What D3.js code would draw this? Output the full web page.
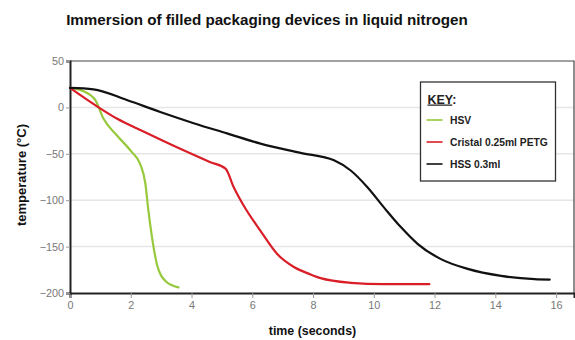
<!doctype html>
<html>
<head>
<meta charset="utf-8">
<title>Immersion of filled packaging devices in liquid nitrogen</title>
<script src="https://cdn.jsdelivr.net/npm/d3@7"></script>
<style>
  body { margin: 0; background: #fff; }
  svg { display: block; font-family: "Liberation Sans", Arial, sans-serif; }
</style>
</head>
<body>
<svg id="chart"></svg>
<script>
// time (s) / temperature (°C)
const hsvTime = [0, 0.4, 0.83, 1.1, 1.54, 2.03, 2.31, 2.48, 2.58, 2.7, 2.86, 3.14, 3.57];
const hsvTemp = [21, 18, 8, -12, -30, -48, -61, -82, -111, -140, -169, -187, -194];

const cristalTime = [0, 0.99, 1.54, 2.42, 3.52, 4.62, 5.12, 5.39, 5.72, 6.27, 6.82, 7.37, 7.92, 8.25, 9.24, 10.33, 11.83];
const cristalTemp = [21, -1, -12, -26, -43, -59, -66, -86, -106, -133, -158, -172, -180, -184, -189, -190.5, -190.5];

const hssTime = [0, 0.77, 1.87, 2.97, 4.07, 5.17, 6.27, 7.59, 8.69, 9.24, 9.79, 10.34, 10.89, 11.44, 12.21, 13.09, 14.19, 15.29, 15.79];
const hssTemp = [21, 19.5, 8, -5, -17, -28, -39, -49, -57, -68, -86, -108, -129, -147, -163.5, -174, -181.5, -185, -185.5];

const seriesNames = ["HSV", "Cristal 0.25ml PETG", "HSS 0.3ml"];
const seriesColors = ["#97c93c", "#d91e28", "#111111"];

const xTicks = [0, 2, 4, 6, 8, 10, 12, 14, 16];
const yTicks = [50, 0, -50, -100, -150, -200];

function renderChart(container) {
    const width = 575, height = 340;
    const plotL = 70, plotR = 574, plotT = 61, plotB = 293;

    const svg = d3.select(container).attr("width", width).attr("height", height);

    const x = d3.scaleLinear().domain([0, 16.59]).range([plotL, plotR]);
    const y = d3.scaleLinear().domain([-200, 50]).range([plotB, plotT]);

    // grid
    svg.append("g")
        .selectAll("line")
        .data(yTicks.filter(v => v > -200 && v < 50))
        .join("line")
        .attr("x1", plotL).attr("x2", plotR)
        .attr("y1", d => y(d)).attr("y2", d => y(d))
        .attr("stroke", "#e6e6e6").attr("stroke-width", 1.5);

    // frame (top/right)
    svg.append("path")
        .attr("d", `M${plotL},${plotT}H${plotR}V${plotB}`)
        .attr("fill", "none").attr("stroke", "#444").attr("stroke-width", 1.2);

    const xAxis = svg.append("g")
        .attr("transform", `translate(0,${plotB})`)
        .call(d3.axisBottom(x).tickValues(xTicks).tickSize(5).tickPadding(3));
    const yAxis = svg.append("g")
        .attr("transform", `translate(${plotL},0)`)
        .call(d3.axisLeft(y).tickValues(yTicks).tickSize(4).tickPadding(2));

    [xAxis, yAxis].forEach(a => {
        a.select(".domain").attr("stroke", "#222").attr("stroke-width", 2);
        a.selectAll(".tick line").attr("stroke", "#999");
        a.selectAll(".tick text").attr("fill", "#777").attr("font-size", 10.8);
    });

    // lines
    const data = [
        d3.zip(hsvTime, hsvTemp),
        d3.zip(cristalTime, cristalTemp),
        d3.zip(hssTime, hssTemp)
    ];
    const line = d3.line().x(d => x(d[0])).y(d => y(d[1])).curve(d3.curveMonotoneX);

    svg.append("g")
        .selectAll("path")
        .data(data)
        .join("path")
        .attr("d", line)
        .attr("fill", "none")
        .attr("stroke", (d, i) => seriesColors[i])
        .attr("stroke-width", 2.2)
        .attr("stroke-linejoin", "round")
        .attr("stroke-linecap", "round");

    // legend
    const legend = svg.append("g").attr("transform", "translate(420.5,82)");
    legend.append("rect")
        .attr("width", 135).attr("height", 99)
        .attr("fill", "#fff").attr("stroke", "#333").attr("stroke-width", 1.3);
    legend.append("text")
        .attr("x", 7).attr("y", 21.5)
        .attr("font-size", 12.5).attr("font-weight", "bold").attr("fill", "#222")
        .html('<tspan text-decoration="underline">KEY</tspan>:');
    const item = legend.selectAll("g.item")
        .data(seriesNames)
        .join("g")
        .attr("class", "item")
        .attr("transform", (d, i) => `translate(0,${38 + i * 22})`);
    item.append("line")
        .attr("x1", 6).attr("x2", 22)
        .attr("stroke", (d, i) => seriesColors[i]).attr("stroke-width", 1.6);
    item.append("text")
        .attr("x", 29.5).attr("dy", "0.35em")
        .attr("font-size", 10.3).attr("font-weight", "bold").attr("fill", "#222")
        .text(d => d);

    // titles
    svg.append("text")
        .attr("x", 267).attr("y", 25)
        .attr("text-anchor", "middle")
        .attr("font-size", 15.2).attr("font-weight", "bold").attr("fill", "#111")
        .text("Immersion of filled packaging devices in liquid nitrogen");

    svg.append("text")
        .attr("x", 312.5).attr("y", 335)
        .attr("text-anchor", "middle")
        .attr("font-size", 12.4).attr("font-weight", "bold").attr("fill", "#111")
        .text("time (seconds)");

    svg.append("text")
        .attr("transform", "translate(26,175) rotate(-90)")
        .attr("text-anchor", "middle")
        .attr("font-size", 13).attr("font-weight", "bold").attr("fill", "#111")
        .text("temperature (°C)");
}

renderChart("#chart");
</script>
</body>
</html>
